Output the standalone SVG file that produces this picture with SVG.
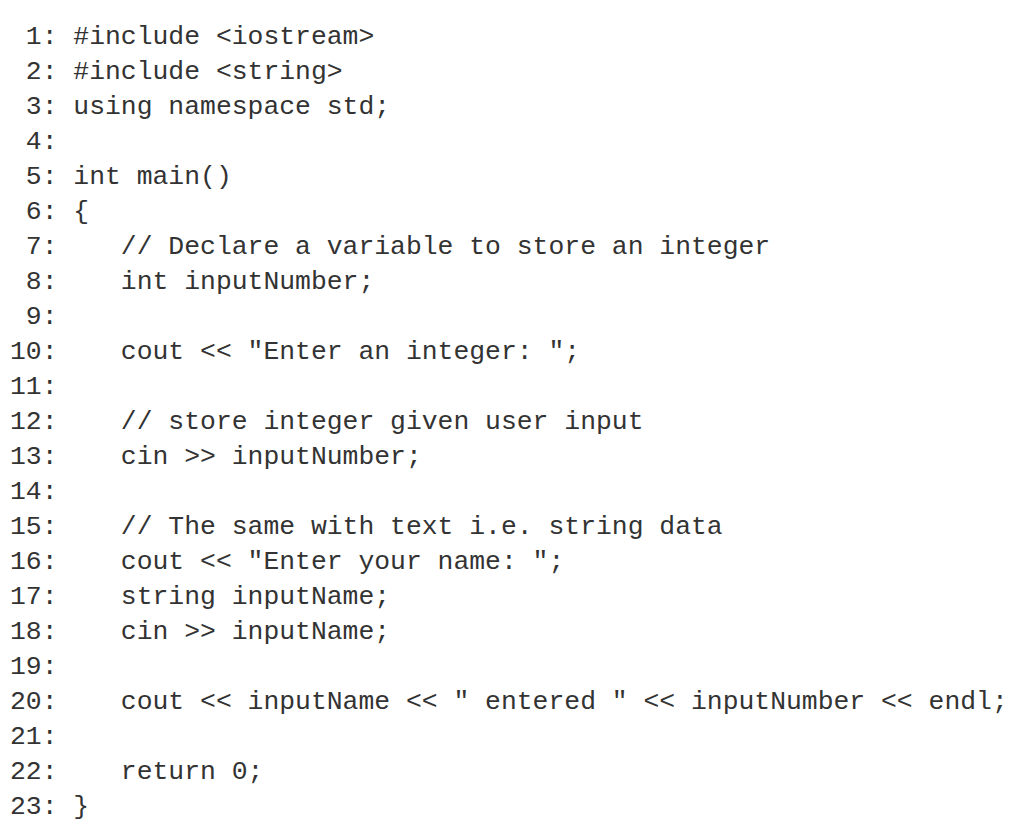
<svg xmlns="http://www.w3.org/2000/svg" width="1024" height="827" viewBox="0 0 1024 827">
<style>text{font-family:"Liberation Mono","Courier New",monospace;font-size:26.4px;fill:#333;white-space:pre}</style>
<rect width="1024" height="827" fill="#fff"/>
<g id="code" xml:space="preserve">
<text x="10" y="44"> 1: #include &lt;iostream&gt;</text>
<text x="10" y="79"> 2: #include &lt;string&gt;</text>
<text x="10" y="114"> 3: using namespace std;</text>
<text x="10" y="149"> 4:</text>
<text x="10" y="184"> 5: int main()</text>
<text x="10" y="219"> 6: {</text>
<text x="10" y="254"> 7:    // Declare a variable to store an integer</text>
<text x="10" y="289"> 8:    int inputNumber;</text>
<text x="10" y="324"> 9:</text>
<text x="10" y="359">10:    cout &lt;&lt; "Enter an integer: ";</text>
<text x="10" y="394">11:</text>
<text x="10" y="429">12:    // store integer given user input</text>
<text x="10" y="464">13:    cin &gt;&gt; inputNumber;</text>
<text x="10" y="499">14:</text>
<text x="10" y="534">15:    // The same with text i.e. string data</text>
<text x="10" y="569">16:    cout &lt;&lt; "Enter your name: ";</text>
<text x="10" y="604">17:    string inputName;</text>
<text x="10" y="639">18:    cin &gt;&gt; inputName;</text>
<text x="10" y="674">19:</text>
<text x="10" y="709">20:    cout &lt;&lt; inputName &lt;&lt; " entered " &lt;&lt; inputNumber &lt;&lt; endl;</text>
<text x="10" y="744">21:</text>
<text x="10" y="779">22:    return 0;</text>
<text x="10" y="814">23: }</text>
</g>
</svg>
